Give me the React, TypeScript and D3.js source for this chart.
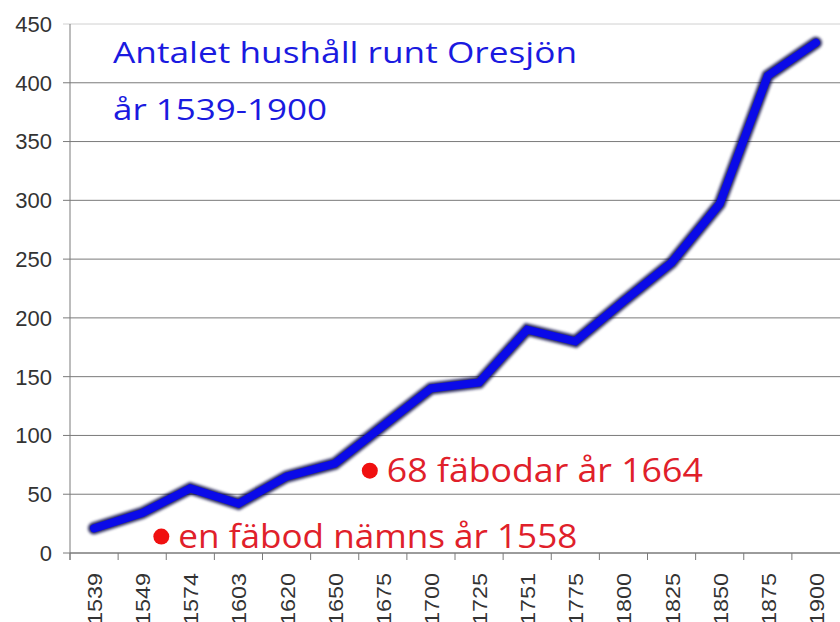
import React from "react";
import * as d3 from "d3";

const categories = ["1539","1549","1574","1603","1620","1650","1675","1700","1725","1751","1775","1800","1825","1850","1875","1900"];
const households = [21, 34, 55, 42, 65, 76, 108, 140, 145, 190, 180, 214, 247, 297, 406, 434];
const yTicks = [0, 50, 100, 150, 200, 250, 300, 350, 400, 450];
const titleLines = [
  { text: "Antalet hushåll runt Oresjön", width: 464 },
  { text: "år 1539-1900", width: 214 },
];
const notes = [
  { text: "en fäbod nämns år 1558", cat: "1574", value: 14, offset: -29, width: 399 },
  { text: "68 fäbodar år 1664", cat: "1675", value: 70, offset: -13, width: 316 },
];

const W = 840, H = 622;
const left = 70, right = 840, top = 24, bottom = 553;

export default function App() {
  const x = d3.scaleBand<string>().domain(categories).range([left, right]);
  const y = d3.scaleLinear().domain([0, 450]).range([bottom, top]);
  const line = d3.line<number>()
    .x((_, i) => (x(categories[i]) as number) + x.bandwidth() / 2)
    .y((d) => y(d));
  const path = line(households) || "";
  const fontAxis = "'Liberation Sans', Arial, sans-serif";
  const fontTitle = "'Open Sans', Lato, sans-serif";
  return (
    <svg width={W} height={H} style={{ position: "absolute", left: 0, top: 0, background: "#fff" }}>
      <defs>
        <filter id="glow" x="-10%" y="-10%" width="120%" height="120%">
          <feGaussianBlur stdDeviation="1.8" />
        </filter>
      </defs>
      {yTicks.map((t) => (
        <g key={t}>
          <line x1={left - 7} x2={right} y1={y(t)} y2={y(t)}
            stroke={t === 450 ? "#d0d0d0" : "#7a7a7a"} strokeWidth={1} />
          <text x={52} y={y(t)} dy="0.36em" textAnchor="end" fontFamily={fontAxis}
            fontSize={22} fill="#333">{t}</text>
        </g>
      ))}
      <line x1={left} x2={left} y1={top} y2={bottom + 7} stroke="#7a7a7a" />
      <line x1={left} x2={right} y1={bottom} y2={bottom} stroke="#7a7a7a" />
      {categories.map((c) => (
        <line key={"t" + c} x1={x(c) as number} x2={x(c) as number} y1={bottom} y2={bottom + 7} stroke="#7a7a7a" />
      ))}
      {categories.map((c) => {
        const cx = (x(c) as number) + x.bandwidth() / 2;
        return (
          <text key={c} transform={`translate(${cx + 1},${573}) rotate(-90) scale(1.2,1)`} textAnchor="end"
            dy="0.36em" fontFamily={fontAxis} fontSize={19.5} fill="#333">{c}</text>
        );
      })}
      <path d={path} fill="none" stroke="#000040" strokeWidth={12} strokeLinejoin="miter"
        strokeLinecap="round" filter="url(#glow)" opacity={0.85} />
      <path d={path} fill="none" stroke="#0a0ae8" strokeWidth={8} strokeLinejoin="miter" strokeLinecap="round" />
      {titleLines.map((t, i) => (
        <text key={t.text} x={113} y={63 + i * 57} fontFamily={fontTitle} fontSize={29}
          textLength={t.width} lengthAdjust="spacingAndGlyphs" fill="#1a1ae0">{t.text}</text>
      ))}
      {notes.map((n) => {
        const cx = (x(n.cat) as number) + x.bandwidth() / 2 + n.offset;
        const cy = y(n.value);
        return (
          <g key={n.text}>
            <circle cx={cx} cy={cy} r={8} fill="#f01010" />
            <text x={cx + 17} y={cy} dy="0.36em" fontFamily={fontTitle} fontSize={32}
              textLength={n.width} lengthAdjust="spacingAndGlyphs" fill="#e0202a">{n.text}</text>
          </g>
        );
      })}
    </svg>
  );
}
